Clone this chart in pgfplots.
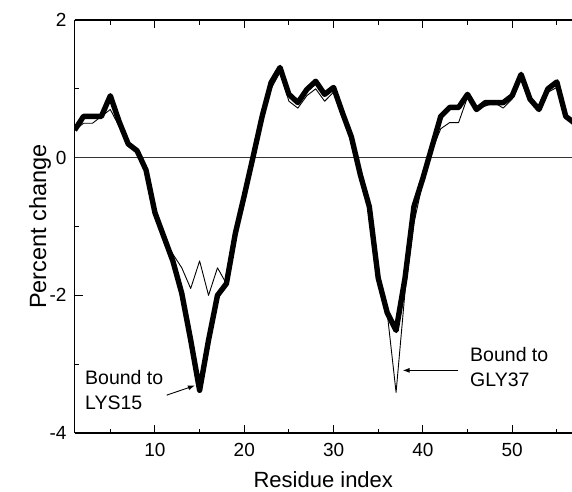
\documentclass[border=0pt]{standalone}
\usepackage{fontspec}
\setmainfont{Liberation Sans}
\usepackage{pgfplots}
\usepackage{pgfplotstable}
\pgfplotsset{compat=1.18}
\usetikzlibrary{arrows.meta}

\pgfplotstableread{
x a b
1 0.40 0.40
2 0.60 0.50
3 0.60 0.50
4 0.60 0.60
5 0.90 0.70
6 0.52 0.45
7 0.20 0.20
8 0.10 0.05
9 -0.18 -0.20
10 -0.80 -0.80
11 -1.15 -1.15
12 -1.50 -1.40
13 -1.97 -1.60
14 -2.65 -1.90
15 -3.38 -1.50
16 -2.65 -2.00
17 -2.00 -1.60
18 -1.83 -1.83
19 -1.10 -1.10
20 -0.55 -0.55
21 0.02 0.02
22 0.60 0.55
23 1.09 1.00
24 1.31 1.24
25 0.92 0.82
26 0.80 0.72
27 0.99 0.90
28 1.11 1.00
29 0.92 0.82
30 1.02 0.95
31 0.65 0.65
32 0.30 0.30
33 -0.25 -0.25
34 -0.71 -0.71
35 -1.75 -1.75
36 -2.25 -2.25
37 -2.51 -3.41
38 -1.75 -1.95
39 -0.71 -0.95
40 -0.30 -0.35
41 0.15 0.10
42 0.60 0.42
43 0.73 0.51
44 0.73 0.51
45 0.92 0.88
46 0.70 0.72
47 0.80 0.75
48 0.80 0.80
49 0.80 0.72
50 0.90 0.85
51 1.21 1.20
52 0.85 0.85
53 0.70 0.70
54 1.00 0.95
55 1.10 1.02
56 0.60 0.60
57 0.50 0.45
}\datatable

\begin{document}
\begin{tikzpicture}
\useasboundingbox (-74.6pt,-58pt) rectangle (497.4pt,433pt);
\begin{axis}[
  at={(0pt,0pt)}, anchor=south west,
  scale only axis, width=497.4pt, height=413pt,
  xmin=1, xmax=56.7, ymin=-4, ymax=2,
  axis x line*=box, axis y line*=left,
  axis line style={line width=1.2pt, black},
  xtick={10,20,30,40,50}, minor xtick={5,15,25,35,45,55},
  ytick={-4,-2,0,2}, minor ytick={-3,-1,1},
  xtick pos=both, ytick pos=left,
  tick align=inside,
  major tick length=8pt, minor tick length=4.5pt,
  tick style={line width=1pt, black},
  /pgf/number format/assume math mode=true,
  ticklabel style={font=\fontsize{19}{19}\selectfont, inner sep=0pt},
  xticklabel style={anchor=north, yshift=-10.5pt},
  yticklabel style={anchor=east, xshift=-8pt},
  xlabel={Residue index}, ylabel={Percent change},
  xlabel style={font=\fontsize{22}{22}\selectfont, at={(axis description cs:0.5,-0.1308)}, anchor=base, inner sep=0pt},
  ylabel style={font=\fontsize{23.5}{23.5}\selectfont, at={(axis description cs:-0.0575,0.5)}, anchor=base, inner sep=0pt},
]
\draw[black!80, line width=1.2pt] (axis cs:1,0) -- (axis cs:56.7,0);
\addplot[black, line width=5.4pt, line join=round, no markers] table[x=x, y=a] {\datatable};
\addplot[black, line width=0.9pt, line join=round, no markers] table[x=x, y=b] {\datatable};

\node[anchor=base west, inner sep=0pt, font=\fontsize{19.5}{19.5}\selectfont] at (axis cs:2.16,-3.30) {Bound to};
\node[anchor=base west, inner sep=0pt, font=\fontsize{19.5}{19.5}\selectfont] at (axis cs:2.16,-3.654) {LYS15};
\node[anchor=base west, inner sep=0pt, font=\fontsize{19.5}{19.5}\selectfont] at (axis cs:45.28,-2.96) {Bound to};
\node[anchor=base west, inner sep=0pt, font=\fontsize{19.5}{19.5}\selectfont] at (axis cs:45.28,-3.33) {GLY37};
\draw[line width=0.9pt, -{Latex[length=7pt,width=5pt]}] (axis cs:11.31,-3.45) -- (axis cs:14.48,-3.31);
\draw[line width=0.9pt, -{Latex[length=7pt,width=5pt]}] (axis cs:43.97,-3.09) -- (axis cs:37.74,-3.09);
\end{axis}
\end{tikzpicture}
\end{document}
